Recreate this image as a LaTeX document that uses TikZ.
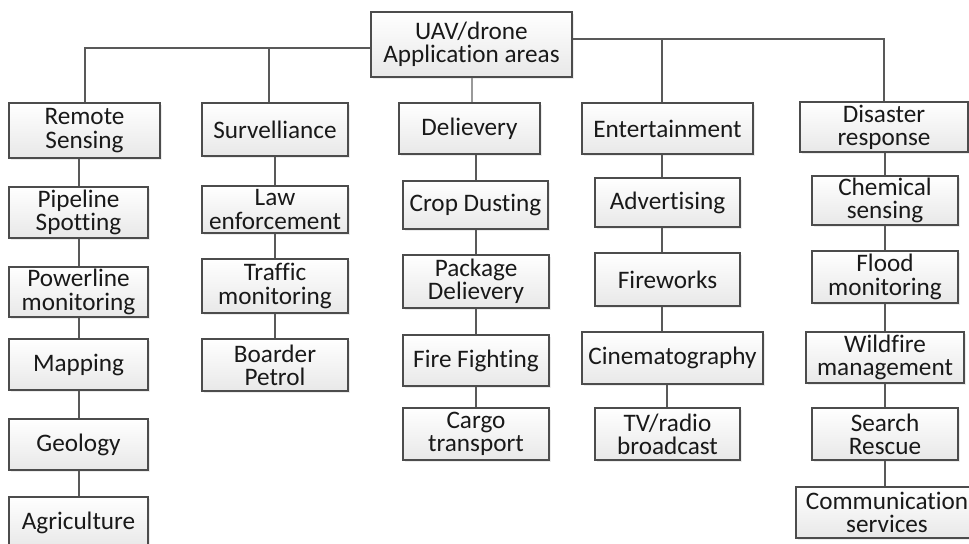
\documentclass[tikz,border=0pt]{standalone}
\usepackage{fontspec}
\setmainfont[Ligatures=CommonOff]{Carlito}
\usepackage{tikz}
\usetikzlibrary{shadows}

\begin{document}
\begin{tikzpicture}[x=0.5pt, y=-0.5pt,
  font=\fontsize{12.6}{11.6}\selectfont,
  box/.style={draw=black!70, line width=0.8pt, top color=white, bottom color=black!9,
    drop shadow={opacity=0.15, shadow xshift=0.8pt, shadow yshift=-0.8pt},
    align=center, inner sep=0pt, text=black!90},
  link/.style={draw=black!65, line width=1pt}]
\useasboundingbox (0,0) rectangle (969,543);
% root
\node[box, minimum width=100.5pt, minimum height=32.5pt] (root) at (471.5,44.5) {UAV/drone\\Application areas};
% main areas
\node[box, minimum width=75.5pt, minimum height=27.5pt] (remote) at (84.5,130.5) {Remote\\Sensing};
\node[box, minimum width=73pt, minimum height=26.5pt] (surv) at (275,129.5) {Survelliance};
\node[box, minimum width=70.5pt, minimum height=25.5pt] (deliv) at (469.5,128.5) {Delievery};
\node[box, minimum width=85.5pt, minimum height=25.5pt] (ent) at (667.5,128.5) {Entertainment};
\node[box, minimum width=84pt, minimum height=25pt] (disaster) at (884,127) {Disaster\\response};
% remote sensing
\node[box, minimum width=69.5pt, minimum height=25.5pt] (pipe) at (78.5,212.5) {Pipeline\\Spotting};
\node[box, minimum width=69.5pt, minimum height=25pt] (power) at (78.5,292) {Powerline\\monitoring};
\node[box, minimum width=69.5pt, minimum height=25.5pt] (mapping) at (78.5,364.5) {Mapping};
\node[box, minimum width=69.5pt, minimum height=25.5pt] (geo) at (78.5,444.5) {Geology};
\node[box, minimum width=69.5pt, minimum height=25.5pt] (agri) at (78.5,522.5) {Agriculture};
% survelliance
\node[box, minimum width=73pt, minimum height=23.5pt] (law) at (275,209.5) {Law\\enforcement};
\node[box, minimum width=73pt, minimum height=27pt] (traffic) at (275,286) {Traffic\\monitoring};
\node[box, minimum width=73pt, minimum height=26pt] (border) at (275,365) {Boarder\\Petrol};
% delievery
\node[box, minimum width=72.5pt, minimum height=24pt] (crop) at (475.5,205) {Crop Dusting};
\node[box, minimum width=73pt, minimum height=26.5pt] (package) at (476,281.5) {Package\\Delievery};
\node[box, minimum width=73pt, minimum height=25.5pt] (fire) at (476,360.5) {Fire Fighting};
\node[box, minimum width=73pt, minimum height=26pt] (cargo) at (476,434) {Cargo\\transport};
% entertainment
\node[box, minimum width=72.5pt, minimum height=24.5pt] (adv) at (667.5,202.5) {Advertising};
\node[box, minimum width=72.5pt, minimum height=26.5pt] (fireworks) at (667.5,279.5) {Fireworks};
\node[box, minimum width=90.5pt, minimum height=26pt] (cinema) at (672.5,358) {Cinematography};
\node[box, minimum width=72.5pt, minimum height=26pt] (tv) at (667.5,434) {TV/radio\\broadcast};
% disaster response
\node[box, minimum width=73pt, minimum height=24.5pt] (chem) at (885,200.5) {Chemical\\sensing};
\node[box, minimum width=73pt, minimum height=26pt] (flood) at (885,277) {Flood\\monitoring};
\node[box, minimum width=79pt, minimum height=25.5pt] (wild) at (885,357.5) {Wildfire\\management};
\node[box, minimum width=73pt, minimum height=26pt] (search) at (885,434) {Search\\Rescue};
\node[box, minimum width=91pt, minimum height=25.5pt] (comm) at (887,512.5) {Communication\\services};

% connectors from the root
\draw[link] ([yshift=-1.75pt]root.west) -| (remote.north);
\draw[link] ([yshift=-1.75pt]root.west) -| ([xshift=-3pt]surv.north);
\draw[link] ([yshift=2.75pt]root.east) -| ([xshift=-2.75pt]ent.north);
\draw[link] ([yshift=2.75pt]root.east) -| (disaster.north);
\draw[link, draw=black!40] (root.south) -- (root.south |- deliv.north);
% columns
\foreach \a/\b in {remote/pipe, pipe/power, power/mapping, mapping/geo, geo/agri,
  surv/law, law/traffic, traffic/border,
  deliv/crop, crop/package, package/fire, fire/cargo,
  disaster/chem, chem/flood, flood/wild, wild/search}
  \draw[link] (\b.north) -- (\b.north |- \a.south);
\draw[link] (search.south) -- (search.south |- comm.north);
\foreach \a/\b in {ent/adv, adv/fireworks, fireworks/cinema, cinema/tv}
  \draw[link] ([xshift=-2.75pt]\b.north -| \a.south) -- ([xshift=-2.75pt]\a.south);
\end{tikzpicture}
\end{document}
